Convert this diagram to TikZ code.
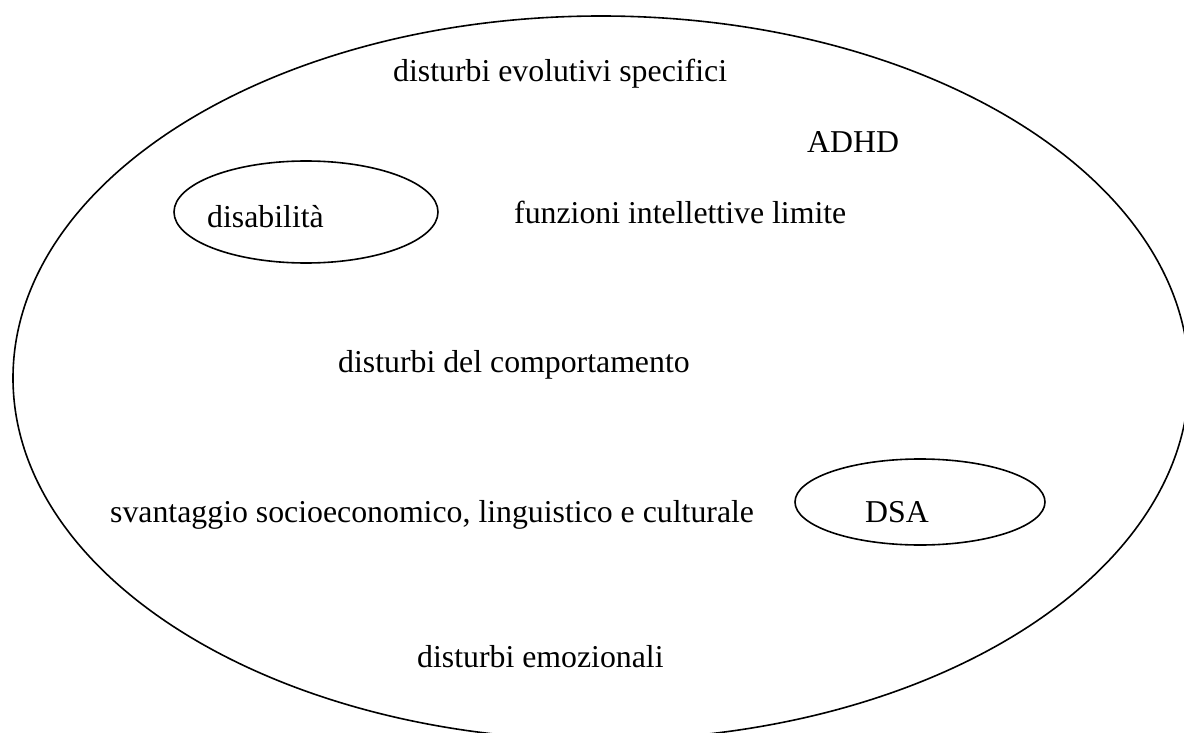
\documentclass[tikz,border=0pt]{standalone}
\usepackage{fontspec}
\setmainfont{Liberation Serif}
\begin{document}
\begin{tikzpicture}[x=1pt,y=-1pt,
  lbl/.style={inner sep=0pt,anchor=base west,font=\fontsize{31.8}{38}\selectfont},
  ring/.style={draw=black,line width=1.6pt}]
\useasboundingbox (0,0) rectangle (1184,733);
\clip (0,0) rectangle (1184,733);
\coordinate (big) at (601,378);
\coordinate (dis) at (306,212);
\coordinate (dsa) at (920,502);
\draw[ring] (big) ellipse [x radius=588pt, y radius=362pt];
\draw[ring] (dis) ellipse [x radius=132pt, y radius=51pt];
\draw[ring] (dsa) ellipse [x radius=125pt, y radius=43pt];
\node[lbl] (evo) at (393,82) {disturbi evolutivi specifici};
\node[lbl] (adhd) at (807,153) {ADHD};
\node[lbl] (disab) at (207,227) {disabilità};
\node[lbl] (fil) at (514,223) {funzioni intellettive limite};
\node[lbl] (comp) at (338,372) {disturbi del comportamento};
\node[lbl] (svan) at (110,522) {svantaggio socioeconomico, linguistico e culturale};
\node[lbl] (dsat) at (865,522) {DSA};
\node[lbl] (emo) at (417,667) {disturbi emozionali};
\end{tikzpicture}
\end{document}
